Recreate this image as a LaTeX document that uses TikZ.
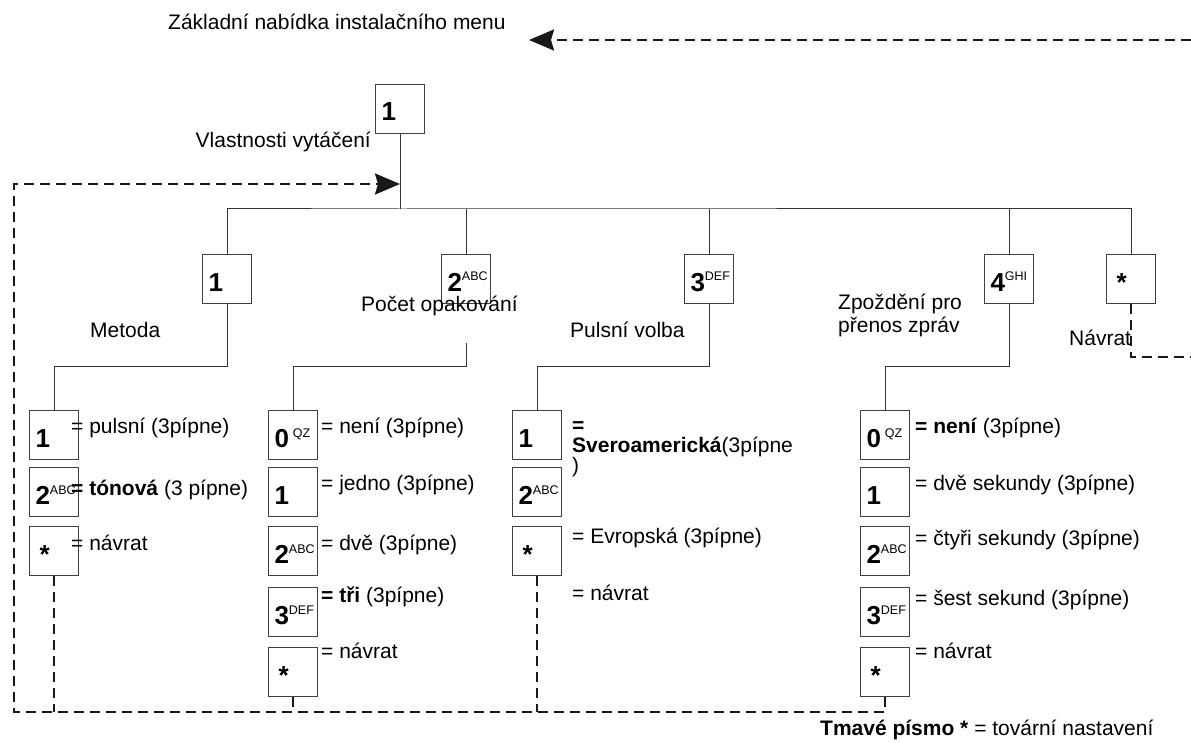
\documentclass[tikz,border=0pt]{standalone}
\usepackage{fontspec}
\setmainfont{Liberation Sans}
\usetikzlibrary{positioning,arrows.meta,calc}
\newcommand{\padkey}[2]{{\fontsize{26}{26}\selectfont\bfseries #1}\raisebox{10pt}{\fontsize{12.5}{12.5}\selectfont #2}}
\tikzset{
    keybox/.style={draw=black!75, line width=1pt, minimum width=49pt, minimum height=49pt,
                   inner xsep=6pt, inner ysep=0pt, text width=37pt, align=left,
                   text height=24pt, text depth=0pt},
    lbl/.style={inner sep=0pt, anchor=base west},
    tree/.style={draw=black!80, line width=1pt},
    back/.style={draw=black!90, line width=2.4pt, dash pattern=on 10pt off 6pt},
    backarrow/.style={back, -{Stealth[length=25pt, width=21pt, inset=3pt]}}
}
\begin{document}
\begin{tikzpicture}[x=1pt, y=-1pt, font=\fontsize{21}{23}\selectfont]
  \useasboundingbox (0,0) rectangle (1191,743);

  % Top of the menu
  \node[lbl] (title) at (168,30) {Základní nabídka instalačního menu};
  \node[keybox] (k0) at (400,109) {\padkey{1}{}};
  \node[lbl, anchor=base east] (k0lbl) at (371,148) {Vlastnosti vytáčení};

  % First level
  \node[keybox] (m1) at (227,279) {\padkey{1}{}};
  \node[keybox] (m2) at (466,279) {\padkey{2}{ABC}};
  \node[keybox] (m3) at (709,279) {\padkey{3}{DEF}};
  \node[keybox] (m4) at (1009,279) {\padkey{4}{GHI}};
  \node[keybox] (m5) at (1131,279) {\padkey{\hspace{4pt}*}{}};
  \node[lbl] (m1lbl) at (90,337) {Metoda};
  \node[lbl] (m2lbl) at (361,311) {Počet opakování};
  \node[lbl] (m3lbl) at (570,337) {Pulsní volba};
  \node[lbl, align=left] (m4lbl) at (838,332) {Zpoždění pro\\přenos zpráv};
  \node[lbl] (m5lbl) at (1069,345) {Návrat};

  % Metoda
  \node[keybox] (c11) at (54,435) {\padkey{1}{}};
  \node[keybox] (c12) at (54,492) {\padkey{2}{ABC}};
  \node[keybox] (c13) at (54,551) {\padkey{\hspace{4pt}*}{}};
  \node[lbl] at (71,433) {= pulsní (3pípne)};
  \node[lbl] at (71,495) {\textbf{= tónová} (3 pípne)};
  \node[lbl] at (71,550) {= návrat};

  % Pocet opakovani
  \node[keybox] (c21) at (293,435) {\padkey{0}{\hspace{4pt}QZ}};
  \node[keybox] (c22) at (293,492) {\padkey{1}{}};
  \node[keybox] (c23) at (293,551) {\padkey{2}{ABC}};
  \node[keybox] (c24) at (293,612) {\padkey{3}{DEF}};
  \node[keybox] (c25) at (293,672) {\padkey{\hspace{4pt}*}{}};
  \node[lbl] at (321,433) {= není (3pípne)};
  \node[lbl] at (321,490) {= jedno (3pípne)};
  \node[lbl] at (321,550) {= dvě (3pípne)};
  \node[lbl] at (321,602) {\textbf{= tři} (3pípne)};
  \node[lbl] at (321,658) {= návrat};

  % Pulsni volba
  \node[keybox] (c31) at (537,435) {\padkey{1}{}};
  \node[keybox] (c32) at (537,492) {\padkey{2}{ABC}};
  \node[keybox] (c33) at (537,551) {\padkey{\hspace{4pt}*}{}};
  \node[lbl, align=left, font=\fontsize{21}{20}\selectfont] at (572,472)
       {\textbf{=}\\\textbf{Sveroamerická}(3pípne\\)};
  \node[lbl] at (572,543) {= Evropská (3pípne)};
  \node[lbl] at (572,600) {= návrat};

  % Zpozdeni
  \node[keybox] (c41) at (885,435) {\padkey{0}{\hspace{4pt}QZ}};
  \node[keybox] (c42) at (885,492) {\padkey{1}{}};
  \node[keybox] (c43) at (885,551) {\padkey{2}{ABC}};
  \node[keybox] (c44) at (885,612) {\padkey{3}{DEF}};
  \node[keybox] (c45) at (885,672) {\padkey{\hspace{4pt}*}{}};
  \node[lbl] at (915,433) {\textbf{= není} (3pípne)};
  \node[lbl] at (915,490) {= dvě sekundy (3pípne)};
  \node[lbl] at (915,545) {= čtyři sekundy (3pípne)};
  \node[lbl] at (915,605) {= šest sekund (3pípne)};
  \node[lbl] at (915,658) {= návrat};

  \node[lbl] (note) at (820,735) {\textbf{Tmavé písmo *} = tovární nastavení};

  % Tree
  \coordinate (bus) at (400,209);
  \coordinate (split) at (0,366);
  \coordinate (m2cut) at ($(m2.south)+(0,39)$);
  \draw[tree] (k0.south) -- (bus);
  \draw[tree] (m1.north) |- (bus) -| (m5.north);
  \foreach \m in {m2,m3,m4} \draw[tree] (\m.north) -- (\m.north |- bus);
  \draw[tree] (m1.south) |- (c11.north |- split) -- (c11.north);
  \draw[tree] (m2cut) |- (c21.north |- split) -- (c21.north);
  \draw[tree] (m3.south) |- (c31.north |- split) -- (c31.north);
  \draw[tree] (m4.south) |- (c41.north |- split) -- (c41.north);

  % Returns
  \coordinate (offT) at (1191,40);
  \coordinate (tipT) at (529,40);
  \coordinate (offN) at (1191,357);
  \coordinate (loopL) at (14,712);
  \coordinate (retin) at (400,184);
  \draw[backarrow] (offT) -- (tipT);
  \draw[back] (m5.south) |- (offN);
  \draw[backarrow] (c45.south) |- (loopL) |- (retin);
  \foreach \k in {c13,c25,c33} \draw[back] (\k.south) -- (\k.south |- loopL);
\end{tikzpicture}
\end{document}
